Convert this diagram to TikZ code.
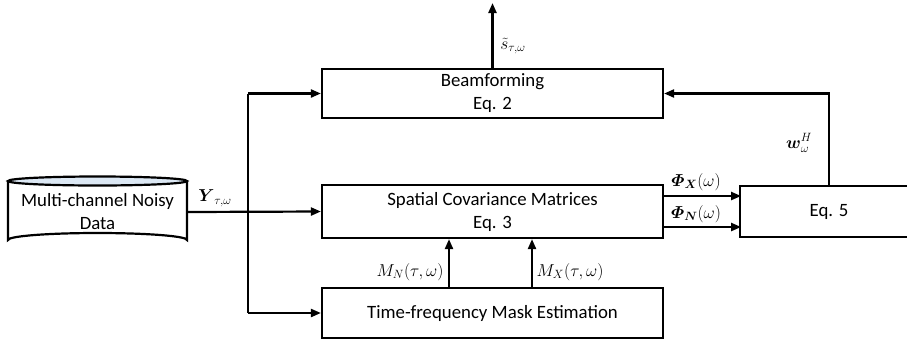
\documentclass[tikz,border=0pt]{standalone}
\usepackage{amsmath}
\usepackage{fontspec}
\setmainfont{Carlito}
\usetikzlibrary{arrows.meta,calc}
\definecolor{cylblue}{HTML}{DCE8F4}
\begin{document}
\begin{tikzpicture}[x=1pt,y=-1pt,line width=2.2pt,
  box/.style={draw,line width=2.2pt,align=center,inner sep=0pt,font=\fontsize{18.8}{23}\selectfont},
  lbl/.style={inner sep=0pt,font=\fontsize{18}{20}\selectfont},
  arr/.style={-{Triangle[length=10pt,width=8pt]},line width=2.2pt}]
\useasboundingbox (0,0) rectangle (907,341);
% cylinder
\draw[fill=white] (8,181) -- (8,240) arc[start angle=180,end angle=360,x radius=89.5,y radius=7] -- (187,181);
\draw[fill=cylblue] (97.5,181) ellipse[x radius=89.5,y radius=4.5];
\node[box,draw=none,minimum width=179,minimum height=40] (data) at (97.5,212) {Multi-channel Noisy\\Data};
% boxes
\node[box,minimum width=341,minimum height=49] (bf) at (492.5,93.5) {Beamforming\\Eq. 2};
\node[box,minimum width=341,minimum height=53] (scm) at (492.5,211.5) {Spatial Covariance Matrices\\Eq. 3};
\node[box,minimum width=341,minimum height=50] (mask) at (492.5,313) {Time-frequency Mask Estimation};
\node[box,minimum width=178,minimum height=51] (eq5) at (829,211.5) {Eq. 5};
% coordinates
\coordinate (out) at (492.5,3);
\coordinate (jt) at (248,93.5);
\coordinate (jb) at (248,313);
\coordinate (wc) at (829,93.5);
% connectors
\draw[arr] (bf.north) -- (out);
\draw[arr] (data.east) -- (scm.west);
\draw (jt) -- (jb);
\draw[arr] (jt) -- (bf.west);
\draw[arr] (jb) -- (mask.west);
\draw[arr] ($(scm.east)+(0,-15.5)$) -- ($(scm.east)+(77,-15.5)$);
\draw[arr] ($(scm.east)+(0,15.5)$) -- ($(scm.east)+(77,15.5)$);
\draw[arr] ([xshift=-43.5pt]mask.north) -- ([xshift=-43.5pt]scm.south);
\draw[arr] ([xshift=39.5pt]mask.north) -- ([xshift=39.5pt]scm.south);
\draw[arr] (eq5.north) -- (wc) -- (bf.east);
% labels
\node[lbl] (ly) at (215,198) {$\boldsymbol{Y}_{\tau,\omega}$};
\node[lbl] (ls) at (513,46) {$\tilde{s}_{\tau,\omega}$};
\node[lbl] (lw) at (799,143) {$\boldsymbol{w}_{\omega}^{H}$};
\node[lbl] (lpx) at (696,182) {$\boldsymbol{\varPhi}_{\boldsymbol{X}}(\omega)$};
\node[lbl] (lpn) at (696,214) {$\boldsymbol{\varPhi}_{\boldsymbol{N}}(\omega)$};
\node[lbl] (lmn) at (410,272) {$M_N(\tau,\omega)$};
\node[lbl] (lmx) at (570,272) {$M_X(\tau,\omega)$};
\end{tikzpicture}
\end{document}
